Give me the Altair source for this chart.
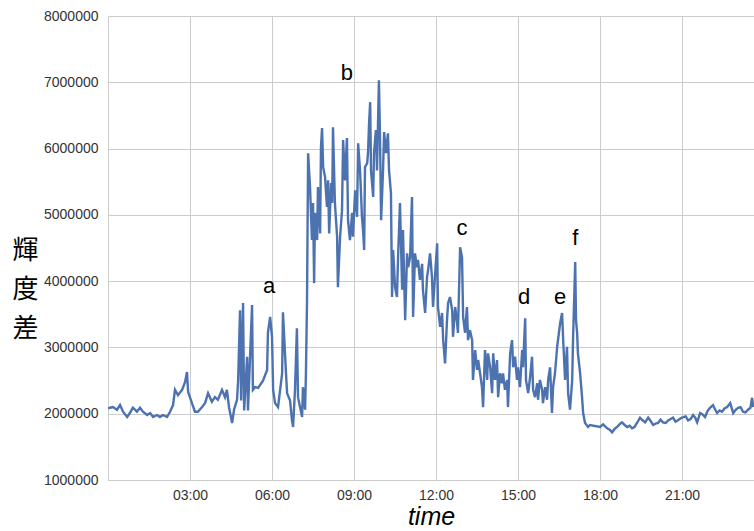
import altair as alt
import pandas as pd

# time in hours since 00:00, luminance difference in millions
hours = [
    0.00, 0.07, 0.18, 0.33, 0.44, 0.55, 0.70, 0.80, 0.91, 1.06, 1.17, 1.28, 1.43, 1.54, 1.65, 1.79,
    1.90, 2.01, 2.16, 2.27, 2.38, 2.45, 2.56, 2.71, 2.82, 2.89, 2.93, 3.07, 3.18, 3.29, 3.44, 3.55,
    3.66, 3.80, 3.91, 4.02, 4.17, 4.28, 4.35, 4.43, 4.54, 4.61, 4.72,
    4.76, 4.83, 4.87, 4.94, 4.98, 5.09, 5.12, 5.20, 5.27, 5.30, 5.38, 5.49, 5.67, 5.82, 5.85, 5.93,
    6.00, 6.04, 6.11, 6.22, 6.37, 6.40, 6.48, 6.55, 6.66, 6.73, 6.77, 6.84, 6.91, 6.95, 7.10, 7.13,
    7.21, 7.24, 7.28,
    7.32, 7.39, 7.46, 7.50, 7.54, 7.57, 7.65, 7.68, 7.76, 7.79, 7.83, 7.87, 7.94, 8.01, 8.05, 8.09,
    8.16, 8.20, 8.23, 8.30, 8.38, 8.41, 8.49, 8.56, 8.60, 8.67, 8.74, 8.78, 8.85, 8.93, 8.96, 9.04,
    9.11, 9.15, 9.22, 9.29, 9.33, 9.37, 9.40, 9.48, 9.51, 9.55, 9.59, 9.62, 9.70, 9.73, 9.80, 9.84,
    9.91, 9.95, 9.99, 10.06, 10.10, 10.17, 10.24, 10.28, 10.35,
    10.39, 10.43, 10.50, 10.57, 10.61, 10.68, 10.76, 10.79, 10.87, 10.94, 10.98, 11.05, 11.12, 11.16,
    11.23, 11.30, 11.34, 11.41, 11.49, 11.52, 11.60, 11.67, 11.71, 11.78, 11.85, 11.89, 11.96, 12.04,
    12.07, 12.15, 12.22, 12.26, 12.33, 12.40, 12.44, 12.51, 12.59, 12.62, 12.70, 12.77, 12.80, 12.88,
    12.95, 12.99, 13.06, 13.13, 13.17,
    13.24, 13.32, 13.35, 13.43, 13.50, 13.54, 13.61, 13.68, 13.72, 13.79, 13.87, 13.90, 13.98, 14.05,
    14.09, 14.16, 14.23, 14.27, 14.34, 14.41, 14.45, 14.52, 14.60, 14.63, 14.71, 14.78, 14.82, 14.89,
    14.96, 15.00, 15.07, 15.15, 15.18, 15.26, 15.29, 15.37, 15.44, 15.51, 15.55, 15.62, 15.70, 15.73,
    15.80, 15.88, 15.91, 15.99, 16.06, 16.10, 16.17, 16.24, 16.28, 16.35, 16.43, 16.46, 16.54, 16.61,
    16.65, 16.72, 16.79, 16.83, 16.90, 16.98, 17.01, 17.09, 17.12, 17.16, 17.19, 17.27, 17.34, 17.38,
    17.45, 17.56,
    17.63, 18.00, 18.11, 18.26, 18.35, 18.44, 18.53, 18.62, 18.71, 18.80, 18.90, 18.99, 19.08, 19.17,
    19.26, 19.35, 19.46, 19.55, 19.65, 19.76, 19.85, 19.94, 20.03, 20.12, 20.21, 20.30, 20.40, 20.49,
    20.58, 20.67, 20.76, 20.85, 20.95, 21.04, 21.13, 21.22, 21.31, 21.40, 21.48, 21.55, 21.66, 21.75,
    21.84, 21.93, 22.02, 22.13, 22.20, 22.28, 22.37, 22.46, 22.55, 22.65, 22.76, 22.87, 22.96, 23.05,
    23.14, 23.23, 23.32, 23.41, 23.50, 23.56, 23.60,
]
values_m = [
    2.08, 2.09, 2.10, 2.06, 2.13, 2.03, 1.95, 2.01, 2.09, 2.03, 2.09, 2.03, 1.98, 2.01, 1.95, 1.98,
    1.95, 1.98, 1.95, 2.03, 2.13, 2.36, 2.28, 2.36, 2.48, 2.63, 2.33, 2.16, 2.03, 2.03, 2.10, 2.16,
    2.31, 2.18, 2.25, 2.21, 2.36, 2.25, 2.36, 2.09, 1.86, 2.06, 2.21,
    2.50, 3.56, 2.20, 3.67, 2.05, 2.86, 2.05, 2.90, 3.64, 2.36, 2.40, 2.39, 2.50, 2.66, 3.22, 3.46,
    3.16, 2.36, 2.16, 2.10, 2.61, 3.53, 2.86, 2.31, 2.20, 1.90, 1.80, 2.36, 3.29, 2.25, 1.95, 2.40,
    2.06, 2.61, 3.70,
    5.93, 5.42, 4.62, 5.18, 3.97, 5.03, 4.62, 5.42, 4.72, 6.02, 6.31, 5.72, 5.57, 5.12, 5.52, 4.72,
    5.48, 5.18, 6.32, 5.18, 4.67, 3.91, 4.67, 5.07, 6.13, 5.52, 6.16, 4.92, 4.62, 5.03, 4.67, 5.37,
    4.97, 6.08, 5.67, 4.97, 4.77, 4.47, 5.72, 5.78, 5.93, 6.38, 6.70, 5.67, 5.27, 5.93, 6.28, 5.67,
    7.03, 6.17, 4.92, 5.67, 6.25, 5.93, 6.23, 5.67, 5.33,
    3.76, 4.47, 3.91, 3.76, 4.36, 5.18, 3.87, 4.77, 3.41, 4.42, 4.21, 4.36, 5.27, 3.46,
    4.42, 4.21, 4.32, 4.02, 4.26, 3.87, 3.52, 4.06, 4.17, 4.42, 4.06, 3.61, 4.06, 4.57,
    3.61, 3.31, 3.52, 3.11, 2.76, 3.41, 3.67, 3.76, 3.56, 3.16, 3.61, 3.37, 3.22, 4.51,
    4.36, 3.46, 3.22, 3.61, 3.11,
    3.26, 3.11, 2.51, 2.96, 2.66, 2.81, 2.61, 2.40, 2.10, 2.96, 2.51, 2.91, 2.70, 2.31,
    2.91, 2.51, 2.81, 2.25, 2.61, 2.46, 2.61, 2.36, 2.51, 2.10, 2.91, 3.11, 2.70, 2.86,
    2.51, 2.70, 2.40, 2.96, 2.70, 3.44, 2.51, 2.31, 2.55, 2.86, 2.36, 2.25, 2.46, 2.21,
    2.51, 2.36, 2.16, 2.40, 2.21, 2.51, 2.70, 2.01, 2.40, 2.61, 3.01, 3.11, 3.37, 3.52,
    3.11, 2.51, 3.01, 2.31, 2.06, 2.51, 3.11, 4.29, 3.41, 3.22, 2.91, 2.61, 2.25, 2.01,
    1.86, 1.80,
    1.83, 1.80, 1.84, 1.78, 1.76, 1.72, 1.77, 1.80, 1.84, 1.87, 1.83, 1.80, 1.82, 1.78,
    1.80, 1.86, 1.94, 1.90, 1.87, 1.94, 1.89, 1.83, 1.85, 1.86, 1.91, 1.87, 1.86, 1.90,
    1.92, 1.94, 1.88, 1.90, 1.93, 1.95, 1.96, 1.90, 1.92, 1.98, 1.94, 1.87, 2.01, 1.99,
    1.95, 2.04, 2.09, 2.13, 2.07, 2.01, 2.05, 2.03, 2.08, 2.10, 2.16, 2.01, 2.06, 2.09,
    2.10, 2.03, 2.02, 2.06, 2.09, 2.24, 2.10,
]

labels = ["a", "b", "c", "d", "e", "f"]
label_hours = [5.89, 8.74, 12.95, 15.22, 16.54, 17.09]
label_values_m = [3.93, 7.14, 4.80, 3.76, 3.76, 4.65]

tick_hours = [0, 3, 6, 9, 12, 15, 18, 21]
y_ticks = [1000000, 2000000, 3000000, 4000000, 5000000, 6000000, 7000000, 8000000]

df = pd.DataFrame({"hour": hours, "value": [v * 1e6 for v in values_m]})
ann = pd.DataFrame({"hour": label_hours, "value": [v * 1e6 for v in label_values_m], "label": labels})

x_scale = alt.Scale(domain=[0, 23.63], nice=False, zero=False)
y_scale = alt.Scale(domain=[1000000, 8000000], nice=False, zero=False)

line = alt.Chart(df).mark_line(color="#4C72B0", strokeWidth=2.4, clip=True).encode(
    x=alt.X(
        "hour:Q",
        scale=x_scale,
        axis=alt.Axis(
            values=tick_hours,
            labelExpr="datum.value == 0 ? '' : (datum.value < 10 ? '0' : '') + datum.value + ':00'",
            title="time",
            titleFontStyle="italic",
            titleFontSize=25,
            titleFontWeight="normal",
            titleColor="#000000",
            titleFont="Liberation Sans",
            titleX=323,
            titleY=44,
            titleBaseline="alphabetic",
            titleAlign="center",
            labelFont="Liberation Sans",
            labelFontSize=14,
            labelColor="#333333",
            labelPadding=8,
            ticks=False,
            grid=True,
            gridColor="#cccccc",
            domain=True,
            domainColor="#cccccc",
        ),
    ),
    y=alt.Y(
        "value:Q",
        scale=y_scale,
        axis=alt.Axis(
            values=y_ticks,
            format="d",
            title=["輝", "度", "差"],
            titleAngle=0,
            titleFont="Noto Sans CJK JP",
            titleFontSize=26,
            titleFontWeight="normal",
            titleColor="#000000",
            titleLineHeight=39,
            titleX=-83,
            titleY=234,
            titleAlign="center",
            titleBaseline="middle",
            labelFont="Liberation Sans",
            labelFontSize=14,
            labelColor="#333333",
            labelPadding=10,
            ticks=False,
            grid=True,
            gridColor="#cccccc",
            domain=True,
            domainColor="#cccccc",
        ),
    ),
)

text = alt.Chart(ann).mark_text(
    font="Liberation Sans", fontSize=22, color="#000000", align="center", baseline="middle"
).encode(
    x=alt.X("hour:Q", scale=x_scale),
    y=alt.Y("value:Q", scale=y_scale),
    text="label:N",
)

chart = (
    alt.layer(line, text)
    .properties(
        width=646,
        height=464,
        autosize=alt.AutoSizeParams(type="none"),
        padding={"left": 108, "top": 16, "right": 0, "bottom": 51},
        background="#ffffff",
    )
    .configure_view(stroke=None)
)

chart.save("out.html", embed_options={"renderer": "svg", "actions": False})
